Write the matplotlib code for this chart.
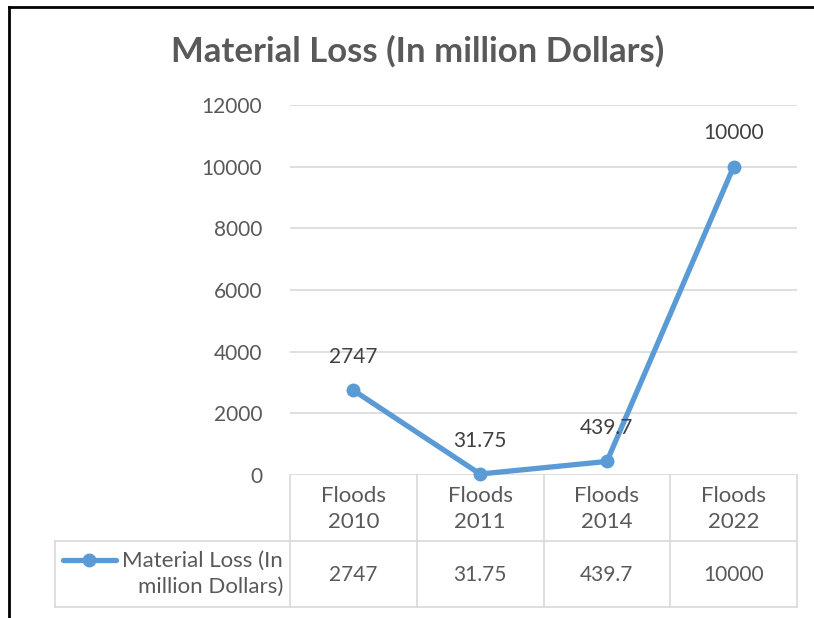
import matplotlib
matplotlib.use("Agg")
import matplotlib.pyplot as plt
from matplotlib.lines import Line2D
import matplotlib.transforms as mtransforms

categories = ["Floods\n2010", "Floods\n2011", "Floods\n2014", "Floods\n2022"]
values = [2747, 31.75, 439.7, 10000]
value_labels = ["2747", "31.75", "439.7", "10000"]
series_name = "Material Loss (In\nmillion Dollars)"
title = "Material Loss (In million Dollars)"
yticks = [0, 2000, 4000, 6000, 8000, 10000, 12000]

plt.rcParams['font.family'] = ['Lato', 'DejaVu Sans']

W, H = 814, 618
fig = plt.figure(figsize=(W / 100, H / 100), dpi=100)

def fx(px):
    return px / W

def fy(py):
    return 1 - py / H

left, right, top, bottom = 290, 797, 105, 475
ax = fig.add_axes([fx(left), fy(bottom), fx(right - left), fy(top) - fy(bottom)])

blue = "#5b9bd5"
grid = "#d9d9d9"
txt = "#595959"
dark = "#404040"

x = list(range(len(categories)))
ax.plot(x, values, color=blue, lw=3.8, marker="o", ms=9, solid_capstyle="round", zorder=3, clip_on=False)
for xi, v, lab in zip(x, values, value_labels):
    ax.annotate(lab, (xi, v), xytext=(0, 24), textcoords="offset points",
                ha="center", va="center", fontsize=15, color=dark)

ax.set_xlim(-0.5, len(categories) - 0.5)
ax.set_ylim(0, 12000)
ax.set_yticks(yticks)
ax.set_yticklabels([str(t) for t in yticks], fontsize=15, color=txt)
ax.tick_params(axis="y", length=0, pad=20)
ax.set_xticks([])
for s in ax.spines.values():
    s.set_visible(False)
ax.grid(axis="y", color=grid, lw=1.2)
ax.set_axisbelow(True)

fig.text(fx(418), fy(51), title, ha="center", va="center", fontsize=25, fontweight="bold", color=txt)

# data table
trans = mtransforms.blended_transform_factory(ax.transData, fig.transFigure)
row1, row2, row3 = fy(475), fy(541), fy(607)
n = len(categories)
for b in range(n + 1):
    xb = b - 0.5
    ax.add_line(Line2D([xb, xb], [row1, row3], transform=trans, color=grid, lw=1.2, clip_on=False))
legend_left = fx(55)
fig.add_artist(Line2D([legend_left, legend_left], [row2, row3], color=grid, lw=1.2))
for ry in (row2, row3):
    fig.add_artist(Line2D([legend_left, fx(right)], [ry, ry], color=grid, lw=1.2))
for xi, cat, lab in zip(x, categories, value_labels):
    ax.text(xi, fy(509), cat, transform=trans, ha="center", va="center", fontsize=16, color=txt, linespacing=1.35)
    ax.text(xi, fy(575), lab, transform=trans, ha="center", va="center", fontsize=15, color=txt)

# legend key
fig.add_artist(Line2D([fx(63), fx(116)], [fy(560), fy(560)], color=blue, lw=3.8, solid_capstyle="round"))
fig.add_artist(Line2D([fx(89)], [fy(560)], color=blue, marker="o", ms=9))
fig.text(fx(283), fy(574), series_name, ha="right", va="center", fontsize=16, color=txt, linespacing=1.35)

# outer border (top and left visible)
fig.add_artist(Line2D([fx(9), 1], [fy(7), fy(7)], color="black", lw=2))
fig.add_artist(Line2D([fx(9), fx(9)], [fy(7), 0], color="black", lw=2))

fig.savefig("out.png", dpi=100, facecolor="white")
